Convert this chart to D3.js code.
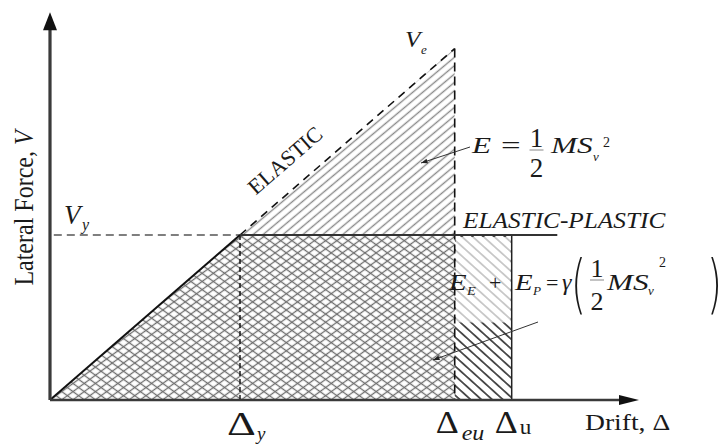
<!DOCTYPE html>
<html><head><meta charset="utf-8">
<script src="https://cdn.jsdelivr.net/npm/d3@7"></script>
<style>
body{margin:0;background:#fff}
svg{display:block}
text{font-family:"Liberation Serif","Times New Roman",serif;fill:#1a1a1a}
</style>
</head><body>
<svg id="chart" width="726" height="446"></svg>
<script>
// Idealised bilinear force–drift response
const driftNames = ["y", "eu", "u"];
const driftValues = [1.0, 2.13, 2.43];      // Δy, Δeu, Δu
const forceNames = ["y", "e"];
const forceValues = [1.0, 2.13];            // Vy, Ve
const plateauEnd = [2.67];                  // end of the elastic-plastic plateau
const axisExtent = [3.1, 2.35];             // drift, force at the arrow tips

const [dy, deu, du] = driftValues;
const [Vy, Ve] = forceValues;

const svg = d3.select("#chart");
const x = d3.scaleLinear().domain([0, axisExtent[0]]).range([50, 639]);
const y = d3.scaleLinear().domain([0, axisExtent[1]]).range([400, 12.25]);
const line = d3.line().x(d => x(d[0])).y(d => y(d[1]));

// hatch patterns
const defs = svg.append("defs");
function hatch(id, angle, gap, color, width) {
  const p = defs.append("pattern").attr("id", id)
    .attr("patternUnits", "userSpaceOnUse")
    .attr("width", 20).attr("height", gap)
    .attr("patternTransform", `rotate(${angle})`);
  p.append("line").attr("x1", 0).attr("x2", 20).attr("y1", gap / 2).attr("y2", gap / 2)
    .attr("stroke", color).attr("stroke-width", width);
}
hatch("h-elastic", -40, 6.4, "#8a8a8a", 1.4);
hatch("h-cross-a", -36, 6.6, "#6e6e6e", 1.3);
hatch("h-cross-b", 36, 6.6, "#6e6e6e", 1.3);
hatch("h-plastic", 42, 7.2, "#222", 1.5);

// regions
const elasticTri = [[dy, Vy], [deu, Ve], [deu, Vy]];
const crossPoly = [[0, 0], [dy, Vy], [deu, Vy], [deu, 0]];
const plasticRect = [[deu, 0], [deu, Vy], [du, Vy], [du, 0]];

svg.append("path").attr("d", line(elasticTri) + "Z").attr("fill", "url(#h-elastic)");
svg.append("path").attr("d", line(crossPoly) + "Z").attr("fill", "url(#h-cross-a)");
svg.append("path").attr("d", line(crossPoly) + "Z").attr("fill", "url(#h-cross-b)");
svg.append("path").attr("d", line(plasticRect) + "Z").attr("fill", "url(#h-plastic)");

// lightened backdrop behind the energy formula
svg.append("rect")
  .attr("x", x(deu) + 1).attr("y", y(Vy) + 2)
  .attr("width", x(du) - x(deu) - 2).attr("height", y(0.47) - y(Vy) - 2)
  .attr("fill", "#fff").attr("opacity", 0.7);

// elastic branch (dashed extension to Ve)
svg.append("path").attr("d", line([[dy, Vy], [deu, Ve]]))
  .attr("stroke", "#111").attr("stroke-width", 1.6).attr("stroke-dasharray", "8,6").attr("fill", "none");
// vertical at Δeu
svg.append("path").attr("d", line([[deu, Ve], [deu, 0]]))
  .attr("stroke", "#111").attr("stroke-width", 1.6).attr("stroke-dasharray", "9,5").attr("fill", "none");
// vertical at Δy
svg.append("path").attr("d", line([[dy, Vy], [dy, 0]]))
  .attr("stroke", "#111").attr("stroke-width", 1.4).attr("stroke-dasharray", "5,3").attr("fill", "none");
// Vy reference
svg.append("path").attr("d", line([[0.02, Vy], [dy, Vy]]))
  .attr("stroke", "#555").attr("stroke-width", 1.3).attr("stroke-dasharray", "8,5").attr("fill", "none");
// Δu boundary
svg.append("path").attr("d", line([[du, Vy], [du, 0]]))
  .attr("stroke", "#222").attr("stroke-width", 1.5).attr("fill", "none");
// elastic-plastic response
svg.append("path").attr("d", line([[0, 0], [dy, Vy]]))
  .attr("stroke", "#111").attr("stroke-width", 2).attr("fill", "none");
svg.append("path").attr("d", line([[dy, Vy], [plateauEnd[0], Vy]]))
  .attr("stroke", "#333").attr("stroke-width", 2).attr("fill", "none");

// axes with arrow heads
const axisColor = "#3a3a3a";
svg.append("path").attr("d", line([[0, 0], [axisExtent[0] - 0.1, 0]]))
  .attr("stroke", axisColor).attr("stroke-width", 2.6);
svg.append("path").attr("d", line([[0, 0], [0, axisExtent[1] - 0.1]]))
  .attr("stroke", axisColor).attr("stroke-width", 3.2);
const xt = x(axisExtent[0]), yt = y(axisExtent[1]);
svg.append("path").attr("d", `M${xt},${y(0)} L${xt - 20},${y(0) - 5} L${xt - 20},${y(0) + 5}Z`).attr("fill", "#111");
svg.append("path").attr("d", `M${x(0)},${yt} L${x(0) - 7},${yt + 18} L${x(0) + 7},${yt + 18}Z`).attr("fill", "#111");

// small leader arrows
function leader(x1, y1, x2, y2) {
  svg.append("line").attr("x1", x1).attr("y1", y1).attr("x2", x2).attr("y2", y2)
    .attr("stroke", "#333").attr("stroke-width", 1);
  const a = Math.atan2(y2 - y1, x2 - x1), L = 7;
  const p1 = [x2 - L * Math.cos(a - 0.35), y2 - L * Math.sin(a - 0.35)];
  const p2 = [x2 - L * Math.cos(a + 0.35), y2 - L * Math.sin(a + 0.35)];
  svg.append("path").attr("d", `M${x2},${y2}L${p1}L${p2}Z`).attr("fill", "#222");
}
leader(470, 147, 421, 163);
leader(538, 322, 433, 360);

// text helper: a glyph run placed at (tx, ty), widened by sx
function txt(tx, ty, str, o = {}) {
  const t = svg.append("text")
    .attr("transform", `translate(${tx},${ty}) scale(${o.sx || 1},${o.sy || 1})${o.rot ? ` rotate(${o.rot})` : ""}`)
    .attr("font-size", o.fs || 20)
    .attr("font-style", o.it ? "italic" : "normal")
    .attr("font-weight", o.fw || "normal")
    .attr("text-anchor", o.anchor || "start")
    .attr("fill", o.fill || "#1a1a1a")
    .text(str);
  if (o.family) t.style("font-family", o.family);
  return t;
}

// axis titles
const yt1 = svg.append("text").attr("transform", "translate(33,208) rotate(-90) scale(1,1.15)")
  .attr("text-anchor", "middle").attr("font-size", 24).attr("fill", "#2a2a2a").text("Lateral Force, ");
yt1.append("tspan").attr("font-style", "italic").text("V");
txt(585, 430, "Drift, Δ", {fs: 23, sx: 1.2});

// drift labels
txt(x(dy) - 13, 435, "Δ", {fs: 34, sx: 1.32});
txt(x(dy) + 17, 440, driftNames[0], {fs: 19, it: true});
txt(x(deu) - 19, 433, "Δ", {fs: 32, sx: 1.12});
txt(x(deu) + 7, 440, driftNames[1], {fs: 20, it: true, sx: 1.2});
txt(x(du) - 17, 433, "Δ", {fs: 32, sx: 1.12});
txt(x(du) + 8, 434, driftNames[2], {fs: 21, sx: 1.1});

// force labels
txt(64, 224, "V", {fs: 27, it: true});
txt(82, 230, forceNames[0], {fs: 16, it: true});
txt(405, 47, "V", {fs: 23, it: true, sx: 1.1});
txt(421, 54, forceNames[1], {fs: 13, it: true});

// branch labels
txt(290, 166, "ELASTIC", {fs: 22, rot: -41, anchor: "middle"});
txt(463, 228, "ELASTIC-PLASTIC", {fs: 23, it: true, sx: 1.1});

// fraction ½ centred at cx
function half(cx, yNum, yBar, yDen, fs) {
  txt(cx, yNum, "1", {fs, anchor: "middle"});
  svg.append("line").attr("x1", cx - 7).attr("x2", cx + 7).attr("y1", yBar).attr("y2", yBar)
    .attr("stroke", "#888").attr("stroke-width", 1);
  txt(cx, yDen, "2", {fs, anchor: "middle"});
}

// E = ½ M Sv²
txt(472, 153, "E", {fs: 24, it: true, sx: 1.3});
txt(501, 153, "=", {fs: 24, sx: 1.45});
half(536.5, 147, 150, 177, 27);
txt(551, 153, "MS", {fs: 24, it: true, sx: 1.3});
txt(593, 161, "v", {fs: 13, it: true});
txt(603, 147, "2", {fs: 14});

// E_E + E_P = γ(½ M Sv²)
txt(449, 290, "E", {fs: 24, it: true, sx: 1.2});
txt(467, 295, "E", {fs: 12, it: true, sx: 1.2});
txt(489, 290, "+", {fs: 22});
txt(515, 290, "E", {fs: 24, it: true, sx: 1.2});
txt(533, 295, "P", {fs: 12, it: true, sx: 1.1});
txt(546, 290, "=", {fs: 22});
txt(562, 290, "γ", {fs: 24, it: true});
const parenFont = '"DejaVu Sans","Liberation Sans",sans-serif';
txt(571, 306, "(", {fs: 64, sx: 0.6, fw: 200, family: parenFont});
half(597, 277, 280, 310, 26);
txt(607, 290, "MS", {fs: 24, it: true, sx: 1.3});
txt(648, 295, "v", {fs: 13, it: true});
txt(659, 267, "2", {fs: 14});
txt(707, 306, ")", {fs: 64, sx: 0.6, fw: 200, family: parenFont});
</script>
</body></html>
